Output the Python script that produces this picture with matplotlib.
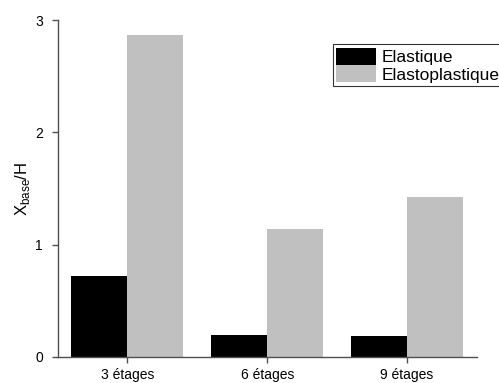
import numpy as np
import matplotlib
matplotlib.use('Agg')
import matplotlib.pyplot as plt

plt.rcParams['font.family'] = ['Liberation Sans', 'DejaVu Sans']

# values
categories = ['3 étages', '6 étages', '9 étages']
elastique = [0.72, 0.20, 0.19]
elastoplastique = [2.867, 1.142, 1.425]

fig = plt.figure(figsize=(4.99, 3.83), dpi=100)
W, H = 499, 383
ax = fig.add_axes([57.5 / W, (H - 357) / H, (477 - 57.5) / W, 337 / H])

x = np.arange(1, len(categories) + 1)
width = 0.4
ax.bar(x - width / 2, elastique, width, color='black', label='Elastique')
ax.bar(x + width / 2, elastoplastique, width, color='#c0c0c0', label='Elastoplastique')

ax.set_xlim(0.5, 3.5)
ax.set_ylim(0, 3)
ax.set_yticks([0, 1, 2, 3])
ax.set_xticks(x)
ax.set_xticklabels(categories)

for side in ['top', 'right']:
    ax.spines[side].set_visible(False)
for side in ['left', 'bottom']:
    ax.spines[side].set_color('#505050')
    ax.spines[side].set_linewidth(1.0)

ax.tick_params(axis='y', length=4.5, width=1, color='#505050', pad=6, labelsize=10)
ax.tick_params(axis='x', length=4, width=1, color='#505050', pad=4, labelsize=10)

ax.set_ylabel(r'X$_{\mathregular{base}}$/H', fontsize=12, labelpad=2)

leg = fig.legend(loc='upper left', bbox_to_anchor=(332.7 / W, 1 - 44.3 / H),
                 fontsize=12.5, frameon=True, fancybox=False, shadow=False,
                 handlelength=2.3, handleheight=1.15, handletextpad=0.3,
                 labelspacing=0, borderpad=0.2, borderaxespad=0)
leg.get_frame().set_edgecolor('black')
leg.get_frame().set_linewidth(0.8)

fig.savefig('out.png', dpi=100)
